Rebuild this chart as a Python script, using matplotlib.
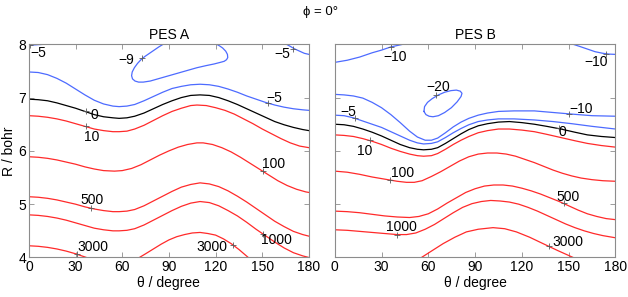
import matplotlib.pyplot as plt

plt.rcParams['font.family'] = ['Liberation Sans', 'DejaVu Sans']

# ---- PES A contour lines (theta in degree, R in bohr) ----
a_m5_th = [0, 6, 12, 18, 24, 30, 36, 42, 48, 54, 58, 63, 68, 74, 80, 86, 92, 98, 104, 110,
           116, 122, 128, 134, 140, 146, 152, 158, 164, 170, 176, 180]
a_m5_r = [7.48, 7.47, 7.43, 7.36, 7.27, 7.16, 7.05, 6.95, 6.88, 6.84, 6.83, 6.84, 6.87, 6.94, 7.02, 7.10,
          7.17, 7.21, 7.24, 7.25, 7.24, 7.21, 7.16, 7.10, 7.03, 6.97, 6.91, 6.86, 6.82, 6.79, 6.77, 6.76]
a_m5tl_th = [0, 5, 10]
a_m5tl_r = [7.98, 7.99, 8.0]
a_m5tr_th = [165.5, 168, 171, 174, 177, 180]
a_m5tr_r = [8.0, 7.96, 7.91, 7.87, 7.83, 7.81]
a_m9_th = [86.3, 83.5, 80.5, 77.5, 74.5, 72.0, 69.8, 67.8, 66.4, 66.0, 66.6, 68.2, 70.5, 73.5, 78, 84,
           90, 96, 102, 108, 114, 119, 123, 125.5, 127.0, 127.8, 127.6, 126.5, 124.5, 122.5, 120.6]
a_m9_r = [8.0, 7.95, 7.89, 7.83, 7.77, 7.71, 7.64, 7.56, 7.48, 7.41, 7.35, 7.31, 7.29, 7.29, 7.31, 7.36,
          7.41, 7.46, 7.51, 7.56, 7.60, 7.63, 7.66, 7.68, 7.71, 7.75, 7.81, 7.87, 7.93, 7.97, 8.0]
a_0_th = [0, 6, 12, 18, 24, 30, 36, 42, 48, 54, 58, 63, 68, 74, 80, 86, 92, 98, 104, 110,
          116, 122, 128, 134, 140, 146, 152, 158, 164, 170, 176, 180]
a_0_r = [6.97, 6.96, 6.94, 6.90, 6.85, 6.80, 6.74, 6.68, 6.64, 6.62, 6.61, 6.62, 6.65, 6.71, 6.79, 6.87,
         6.94, 7.00, 7.04, 7.05, 7.04, 7.00, 6.94, 6.87, 6.79, 6.71, 6.63, 6.55, 6.49, 6.44, 6.40, 6.38]
a_10_th = [0, 6, 12, 18, 24, 30, 36, 42, 48, 54, 58, 63, 68, 74, 80, 86, 92, 98, 104, 108,
           114, 120, 126, 132, 138, 144, 150, 156, 162, 168, 174, 180]
a_10_r = [6.66, 6.65, 6.63, 6.60, 6.56, 6.51, 6.46, 6.41, 6.38, 6.36, 6.36, 6.37, 6.41, 6.48, 6.57, 6.66,
          6.74, 6.80, 6.85, 6.86, 6.85, 6.81, 6.76, 6.69, 6.60, 6.51, 6.41, 6.32, 6.23, 6.15, 6.09, 6.06]
a_100_th = [0, 6, 12, 18, 24, 30, 36, 42, 48, 55, 60, 66, 72, 78, 84, 90, 96, 102, 108, 112,
            118, 124, 130, 136, 142, 148, 154, 160, 166, 172, 178, 180]
a_100_r = [5.89, 5.88, 5.86, 5.83, 5.79, 5.75, 5.70, 5.66, 5.63, 5.62, 5.63, 5.67, 5.74, 5.83, 5.92, 6.00,
           6.07, 6.12, 6.15, 6.15, 6.12, 6.06, 5.98, 5.88, 5.77, 5.66, 5.55, 5.44, 5.35, 5.28, 5.23, 5.22]
a_500_th = [0, 6, 12, 18, 24, 30, 36, 42, 48, 54, 58, 63, 68, 74, 80, 86, 92, 98, 104, 110,
            116, 122, 128, 134, 140, 146, 152, 158, 164, 170, 176, 180]
a_500_r = [5.14, 5.13, 5.11, 5.08, 5.04, 5.00, 4.95, 4.91, 4.88, 4.86, 4.86, 4.87, 4.90, 4.97, 5.06, 5.15,
           5.24, 5.32, 5.37, 5.40, 5.38, 5.33, 5.25, 5.15, 5.04, 4.92, 4.80, 4.68, 4.58, 4.49, 4.43, 4.40]
a_1000_th = [0, 6, 12, 18, 24, 30, 36, 42, 48, 54, 58, 63, 68, 74, 80, 86, 92, 98, 104, 110,
             116, 122, 128, 134, 140, 146, 152, 158, 164, 170, 176, 180]
a_1000_r = [4.80, 4.79, 4.77, 4.74, 4.70, 4.65, 4.60, 4.55, 4.52, 4.50, 4.50, 4.51, 4.54, 4.61, 4.70, 4.79,
            4.88, 4.96, 5.02, 5.05, 5.03, 4.97, 4.88, 4.78, 4.66, 4.53, 4.41, 4.29, 4.18, 4.09, 4.03, 4.00]
a_3000a_th = [0, 6, 12, 18, 24, 30, 34, 37]
a_3000a_r = [4.22, 4.21, 4.19, 4.16, 4.12, 4.07, 4.03, 4.00]
a_3000b_th = [71, 75, 80, 85, 90, 95, 100, 105, 110, 115, 120, 125, 130, 135, 141]
a_3000b_r = [4.0, 4.07, 4.16, 4.25, 4.33, 4.39, 4.43, 4.46, 4.47, 4.45, 4.42, 4.35, 4.26, 4.15, 4.0]

# ---- PES B contour lines ----
b_m10tl_th = [0, 8, 16, 24, 30, 36, 43.8]
b_m10tl_r = [7.66, 7.70, 7.76, 7.84, 7.89, 7.95, 8.0]
b_m10tr_th = [152.8, 157, 162, 167, 172, 176, 180]
b_m10tr_r = [8.0, 7.96, 7.91, 7.86, 7.83, 7.815, 7.81]
b_m20_th = [57.2, 58.5, 60.5, 63.0, 66.5, 70.5, 74.8, 78.5, 81.0, 81.6, 80.5, 78.0, 74.5, 70.5, 66.5,
            62.5, 59.5, 57.6, 57.2]
b_m20_r = [6.74, 6.68, 6.65, 6.64, 6.66, 6.72, 6.81, 6.92, 7.02, 7.08, 7.12, 7.14, 7.13, 7.10, 7.05,
           6.98, 6.91, 6.83, 6.74]
b_m10_th = [0, 6, 12, 18, 24, 30, 36, 42, 48, 53, 58, 62, 66, 71, 76, 81, 86, 92, 98, 105, 115,
            128, 140, 152, 165, 180]
b_m10_r = [7.06, 7.05, 7.03, 6.99, 6.91, 6.81, 6.68, 6.53, 6.37, 6.26, 6.20, 6.20, 6.24, 6.34, 6.45,
           6.54, 6.61, 6.67, 6.71, 6.74, 6.75, 6.75, 6.72, 6.69, 6.66, 6.65]
b_m5_th = [0, 6, 12, 18, 24, 30, 36, 42, 48, 53, 57, 62, 66, 71, 76, 81, 86, 92, 98, 105, 115,
           128, 140, 152, 165, 180]
b_m5_r = [6.67, 6.66, 6.62, 6.56, 6.50, 6.44, 6.36, 6.28, 6.20, 6.15, 6.13, 6.14, 6.17, 6.25, 6.34,
          6.42, 6.49, 6.55, 6.58, 6.60, 6.60, 6.58, 6.55, 6.51, 6.46, 6.41]
b_0_th = [0, 6, 12, 18, 24, 30, 36, 42, 48, 53, 57, 62, 66, 71, 76, 81, 86, 92, 98, 105, 112,
          120, 128, 136, 145, 154, 162, 171, 180]
b_0_r = [6.50, 6.49, 6.46, 6.41, 6.35, 6.28, 6.20, 6.12, 6.06, 6.03, 6.02, 6.03, 6.06, 6.14, 6.23,
         6.32, 6.40, 6.47, 6.51, 6.54, 6.55, 6.53, 6.50, 6.46, 6.41, 6.35, 6.30, 6.27, 6.25]
b_10_th = [0, 6, 12, 18, 24, 30, 36, 42, 48, 53, 57, 62, 66, 71, 76, 81, 86, 92, 98, 105, 112,
           120, 128, 136, 145, 154, 162, 171, 180]
b_10_r = [6.30, 6.29, 6.27, 6.23, 6.18, 6.12, 6.05, 5.99, 5.94, 5.91, 5.90, 5.91, 5.95, 6.03, 6.12,
          6.20, 6.27, 6.34, 6.38, 6.41, 6.41, 6.39, 6.36, 6.31, 6.25, 6.19, 6.14, 6.10, 6.07]
b_100_th = [0, 8, 16, 24, 32, 40, 46, 51, 56, 62, 68, 74, 80, 86, 92, 98, 104, 110, 116, 122,
            128, 134, 140, 146, 152, 158, 165, 172, 180]
b_100_r = [5.62, 5.60, 5.56, 5.51, 5.47, 5.43, 5.41, 5.41, 5.44, 5.52, 5.61, 5.71, 5.81, 5.89, 5.94,
           5.96, 5.96, 5.94, 5.90, 5.84, 5.78, 5.71, 5.64, 5.58, 5.53, 5.49, 5.46, 5.44, 5.43]
b_500_th = [0, 8, 16, 24, 32, 40, 48, 54, 60, 66, 72, 78, 84, 90, 96, 102, 108, 114, 120, 126,
            132, 138, 144, 150, 156, 162, 168, 174, 180]
b_500_r = [4.87, 4.86, 4.84, 4.81, 4.78, 4.76, 4.75, 4.77, 4.82, 4.91, 5.02, 5.12, 5.22, 5.29, 5.34,
           5.36, 5.36, 5.34, 5.30, 5.25, 5.19, 5.12, 5.05, 4.97, 4.89, 4.82, 4.77, 4.73, 4.71]
b_1000_th = [0, 8, 16, 24, 32, 40, 46, 52, 58, 64, 70, 76, 82, 88, 94, 100, 106, 112, 118, 124,
             130, 136, 142, 148, 154, 160, 166, 172, 180]
b_1000_r = [4.52, 4.51, 4.49, 4.47, 4.45, 4.43, 4.43, 4.46, 4.53, 4.62, 4.73, 4.84, 4.94, 5.01, 5.05,
            5.07, 5.06, 5.04, 5.00, 4.94, 4.87, 4.79, 4.71, 4.63, 4.56, 4.50, 4.45, 4.41, 4.37]
b_3000_th = [55.6, 62, 69.5, 77, 84.4, 92, 101.5, 109, 116.5, 125, 133.6, 143, 152.9]
b_3000_r = [4.0, 4.12, 4.26, 4.38, 4.48, 4.53, 4.56, 4.54, 4.48, 4.38, 4.26, 4.13, 4.0]

# ---- contour labels: text, label position, '+' position ----
a_lab_text = ['\u22125', '\u22129', '\u22125', '\u22125', '0', '10', '100', '500', '1000', '3000', '3000']
a_lab_th = [6, 62.8, 163, 158, 42.4, 40.2, 157.5, 40.9, 159, 41.3, 117.3]
a_lab_r = [7.84, 7.71, 7.81, 6.99, 6.67, 6.26, 5.76, 5.07, 4.32, 4.20, 4.20]
a_mark_th = [1, 72.4, 170, 153.7, 37, 36.6, 150.5, 40.2, 150.5, 31, 131.2]
a_mark_r = [7.98, 7.74, 7.91, 6.89, 6.74, 6.46, 5.62, 4.93, 4.45, 4.06, 4.24]

b_lab_text = ['\u221210', '\u221210', '\u221220', '\u22125', '\u221210', '0', '10', '100', '500', '1000', '3000']
b_lab_th = [38.5, 167.4, 66.2, 8.5, 158, 146, 19, 43.4, 149.7, 42.8, 149.7]
b_lab_r = [7.76, 7.67, 7.20, 6.72, 6.79, 6.36, 6.0, 5.59, 5.13, 4.57, 4.29]
b_mark_th = [36.3, 173.8, 65.1, 13, 150.5, 144, 22.4, 35.7, 146.9, 40, 137.5]
b_mark_r = [7.95, 7.82, 7.04, 6.61, 6.70, 6.42, 6.21, 5.45, 5.03, 4.43, 4.21]

pes_a = [(-5, a_m5_th, a_m5_r), (-5, a_m5tl_th, a_m5tl_r), (-5, a_m5tr_th, a_m5tr_r),
         (-9, a_m9_th, a_m9_r), (0, a_0_th, a_0_r), (10, a_10_th, a_10_r),
         (100, a_100_th, a_100_r), (500, a_500_th, a_500_r), (1000, a_1000_th, a_1000_r),
         (3000, a_3000a_th, a_3000a_r), (3000, a_3000b_th, a_3000b_r)]
pes_b = [(-10, b_m10tl_th, b_m10tl_r), (-10, b_m10tr_th, b_m10tr_r), (-20, b_m20_th, b_m20_r),
         (-10, b_m10_th, b_m10_r), (-5, b_m5_th, b_m5_r), (0, b_0_th, b_0_r),
         (10, b_10_th, b_10_r), (100, b_100_th, b_100_r), (500, b_500_th, b_500_r),
         (1000, b_1000_th, b_1000_r), (3000, b_3000_th, b_3000_r)]


def level_color(level):
    if level < 0:
        return '#4d6bff'
    if level == 0:
        return 'black'
    return '#ff2a2a'


def draw_panel(ax, lines, lab_text, lab_th, lab_r, mark_th, mark_r, title):
    for level, th, r in lines:
        ax.plot(th, r, color=level_color(level), lw=0.9, solid_joinstyle='round')
    ax.plot(mark_th, mark_r, ls='none', marker='+', ms=4, mew=0.6, color='0.35')
    for t, x, y in zip(lab_text, lab_th, lab_r):
        ax.text(x, y, t, fontsize=10, ha='center', va='center')
    ax.set_xlim(0, 180)
    ax.set_ylim(4, 8)
    ax.set_xticks(range(0, 181, 30))
    ax.set_yticks(range(4, 9))
    ax.tick_params(direction='in', top=True, right=True, length=3.5, width=0.6,
                   color='0.55', labelsize=10, pad=2)
    for s in ax.spines.values():
        s.set_color('0.55')
        s.set_linewidth(0.8)
    ax.set_title(title, fontsize=10, pad=4)
    ax.set_xlabel('\u03b8 / degree', fontsize=10, labelpad=1)


fig = plt.figure(figsize=(6.28, 2.97), dpi=100)
ax1 = fig.add_axes([0.046, 0.133, 0.446, 0.718])
ax2 = fig.add_axes([0.533, 0.133, 0.447, 0.718])

draw_panel(ax1, pes_a, a_lab_text, a_lab_th, a_lab_r, a_mark_th, a_mark_r, 'PES A')
draw_panel(ax2, pes_b, b_lab_text, b_lab_th, b_lab_r, b_mark_th, b_mark_r, 'PES B')
ax1.set_ylabel('R / bohr', fontsize=10, labelpad=2)
ax2.set_yticklabels([])

fig.text(0.511, 0.958, '\u03d5 = 0\u00b0', fontsize=9.5, ha='center', va='center')

fig.savefig('out.png', dpi=100)
